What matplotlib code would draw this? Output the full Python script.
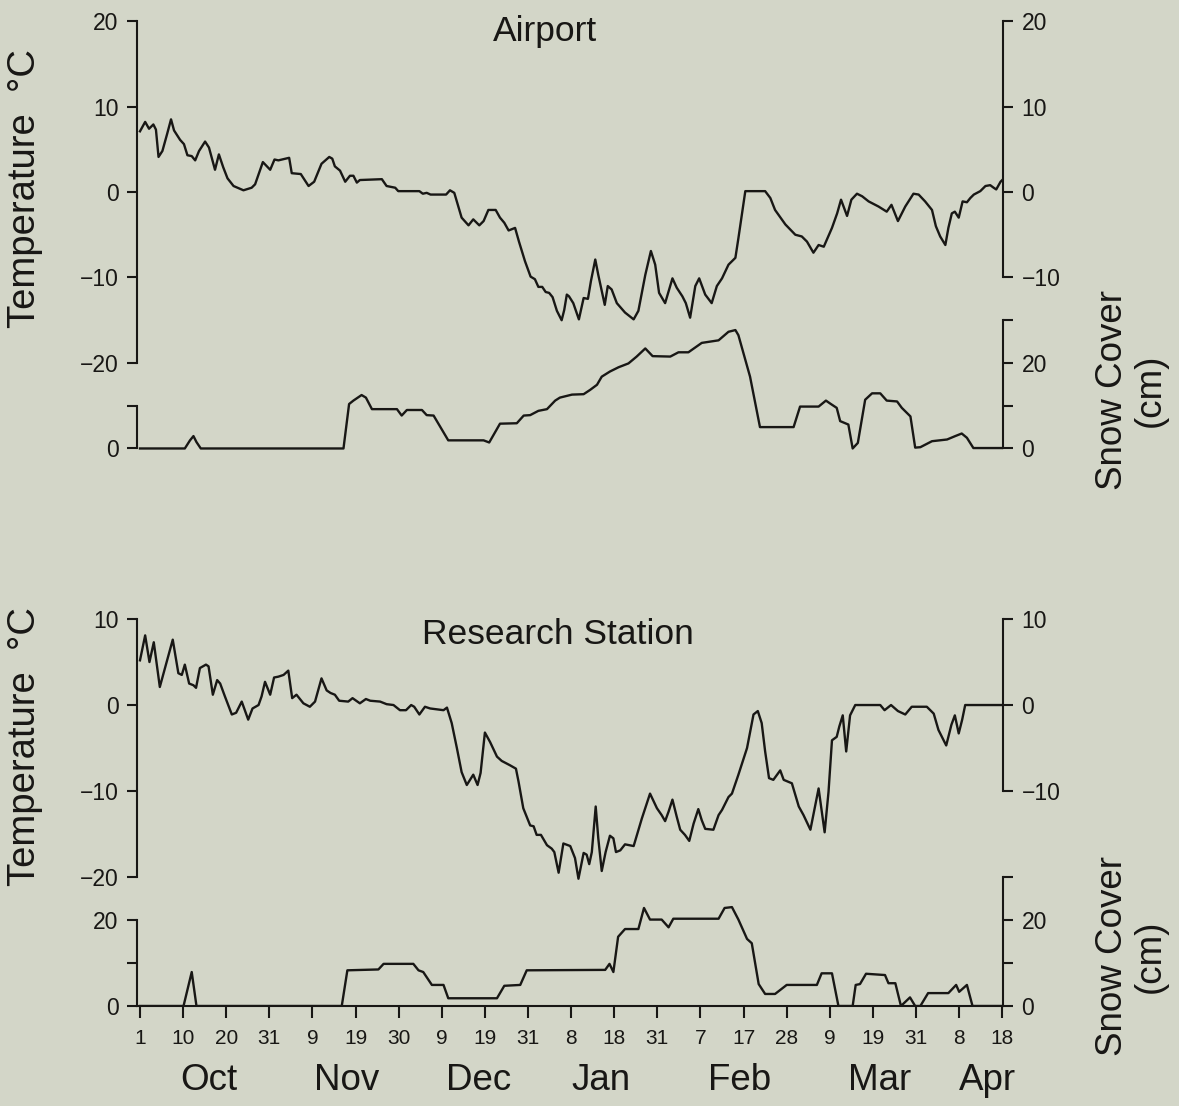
import matplotlib.pyplot as plt

plt.rcParams['font.family'] = ['Liberation Sans', 'DejaVu Sans']

# Values. Day 0 = 1 Oct, ticks every 10 days.
airport_temp_day = [
    0.0, 1.2, 2.1, 3.1, 3.7, 4.3, 5.2, 6.3, 7.2, 7.9, 9.3, 10.2, 11.0, 12.0, 12.8,
    13.7, 15.1, 16.0, 17.4, 18.3, 19.3, 20.3, 21.7, 24.0, 25.9, 26.7, 28.5, 30.2,
    31.2, 32.1, 34.6, 35.2, 37.3, 39.1, 40.4, 42.1, 43.9, 44.6, 45.2, 46.4, 47.6,
    48.7, 49.5, 50.3, 51.0, 56.1, 57.2, 59.2, 59.9, 64.8, 65.6, 66.5, 67.4, 71.0,
    71.9, 72.9, 73.9, 74.6, 76.2, 77.3, 78.7, 79.7, 80.8, 82.5, 83.5, 84.5, 85.5,
    87.0, 87.9, 89.3, 90.6, 91.6, 92.4, 93.3, 94.1, 94.9, 95.7, 96.7, 97.8, 98.4,
    99.0, 99.5, 100.5, 101.8, 102.9, 103.9, 104.6, 105.6, 106.3, 107.8, 108.5,
    109.4, 110.6, 112.5, 114.5, 115.6, 117.2, 118.5, 119.5, 120.4, 121.8, 123.5,
    124.5, 125.8, 126.6, 127.6, 128.8, 129.7, 131.1, 132.6, 133.8, 135.0, 136.5,
    138.1, 138.8, 140.4, 141.0, 145.0, 146.2, 147.3, 149.7, 152.0, 153.5, 154.7,
    156.2, 157.4, 158.6, 160.5, 161.7, 162.6, 164.0, 165.0, 166.3, 167.5, 169.0,
    171.3, 173.2, 174.3, 175.8, 177.5, 179.4, 180.6, 182.1, 183.7, 184.6, 185.6,
    186.8, 187.5, 188.3, 189.0, 189.9, 190.8, 191.8, 192.6, 193.4, 194.9, 196.1,
    197.2, 198.0, 198.6, 199.6, 200.0]
airport_temp = [
    7.1, 8.2, 7.4, 7.9, 7.3, 4.1, 4.8, 6.8, 8.5, 7.2, 6.1, 5.6, 4.3, 4.2, 3.7,
    4.8, 5.9, 5.2, 2.6, 4.4, 2.9, 1.6, 0.7, 0.2, 0.5, 0.9, 3.5, 2.6,
    3.8, 3.7, 4.0, 2.2, 2.1, 0.7, 1.2, 3.3, 4.1, 3.9, 3.0, 2.5, 1.2,
    1.9, 1.9, 1.1, 1.4, 1.5, 0.7, 0.5, 0.1, 0.1, -0.2, -0.1, -0.3, -0.3,
    0.2, -0.1, -1.8, -3.0, -3.9, -3.2, -3.9, -3.4, -2.1, -2.1, -3.0, -3.6, -4.5,
    -4.2, -5.8, -8.1, -9.9, -10.2, -11.1, -11.1, -11.7, -11.8, -12.3, -13.9, -15.0, -13.8,
    -12.0, -12.2, -13.0, -14.9, -12.4, -12.5, -10.4, -7.9, -9.7, -13.2, -11.0,
    -11.4, -13.0, -14.1, -14.9, -13.9, -9.7, -6.9, -8.5, -11.8, -13.0, -10.1,
    -11.2, -12.2, -13.0, -14.7, -11.0, -10.1, -12.0, -13.0, -11.0, -10.1, -8.5,
    -7.7, -5.4, 0.1, 0.1, 0.1, -0.7, -2.1, -3.8, -5.0, -5.2, -5.8,
    -7.1, -6.2, -6.4, -4.2, -2.5, -0.9, -2.8, -0.9, -0.2, -0.5, -1.1,
    -1.7, -2.3, -1.5, -3.4, -1.7, -0.2, -0.3, -1.1, -2.1, -4.0, -5.2,
    -6.2, -4.2, -2.5, -2.3, -3.0, -1.1, -1.2, -0.7, -0.3, 0.1, 0.7,
    0.8, 0.5, 0.3, 1.2, 1.4]

airport_snow_day = [
    0.0, 10.4, 11.6, 12.4, 13.1, 14.1, 47.2, 48.5, 49.5, 51.4, 52.4, 53.8,
    59.6, 60.7, 61.9, 65.4, 66.5, 68.1, 71.5, 79.7, 81.0, 83.5, 87.4, 89.0,
    90.5, 92.4, 94.4, 96.3, 97.4, 100.2, 102.9, 104.4, 106.0, 107.1, 109.0,
    111.0, 113.3, 115.2, 117.2, 118.9, 123.0, 124.9, 127.2, 130.3, 134.2, 136.5,
    138.1, 138.8, 141.5, 143.8, 151.6, 153.1, 157.4, 159.1, 160.1, 161.6, 162.4,
    164.3, 165.3, 166.5, 168.2, 169.8, 171.7, 173.2, 175.6, 176.7, 178.7, 179.8,
    181.0, 183.7, 187.2, 189.1, 190.6, 191.8, 193.3, 200.0]
airport_snow = [
    0, 0, 1.9, 2.9, 1.5, 0, 0, 10.4, 11.2, 12.5, 11.9, 9.2,
    9.2, 7.7, 9.0, 9.0, 7.8, 7.7, 1.9, 1.9, 1.4, 5.8, 5.9, 7.7,
    7.8, 8.8, 9.2, 11.2, 11.9, 12.6, 12.7, 13.7, 14.9, 16.8, 18.0,
    19.0, 19.9, 21.5, 23.4, 21.6, 21.5, 22.5, 22.5, 24.7, 25.3, 27.3,
    27.7, 26.5, 16.8, 5.0, 5.0, 9.8, 9.8, 11.2, 10.5, 9.5, 6.4,
    5.6, 0, 1.3, 11.4, 12.9, 12.9, 11.2, 11.0, 9.5, 7.5, 0.2,
    0.3, 1.7, 2.1, 2.9, 3.5, 2.5, 0.1, 0.1]

station_temp_day = [
    0.0, 1.2, 2.2, 3.2, 4.6, 7.6, 8.9, 9.7, 10.4, 11.4, 12.4, 13.0, 13.9, 15.3,
    15.9, 16.9, 17.9, 18.6, 19.7, 21.3, 22.3, 23.6, 25.1, 26.1, 27.5, 28.2, 29.0,
    30.2, 31.1, 32.1, 33.3, 34.4, 35.3, 36.3, 37.9, 39.4, 40.6, 42.1, 43.3, 44.2,
    45.2, 46.2, 48.3, 49.3, 51.0, 52.4, 53.4, 55.7, 57.2, 58.8, 60.3, 61.7, 62.9,
    63.6, 64.8, 66.1, 67.3, 70.4, 71.2, 72.3, 73.5, 74.6, 75.8, 77.3, 78.3, 79.0,
    80.0, 81.2, 82.8, 83.9, 85.8, 87.2, 87.8, 88.9, 90.5, 91.3, 92.0, 93.0, 94.4,
    95.5, 96.1, 97.1, 98.2, 99.8, 100.9, 101.7, 102.9, 103.6, 104.2, 104.8, 105.7,
    106.3, 107.1, 108.0, 109.0, 109.8, 110.4, 111.4, 112.5, 114.5, 116.4, 118.3,
    119.9, 121.0, 121.8, 122.6, 123.5, 124.5, 125.3, 126.4, 127.4, 128.4, 129.5,
    130.3, 131.1, 133.0, 134.2, 135.0, 136.5, 137.3, 138.8, 140.8, 142.3, 143.3,
    144.2, 145.0, 145.9, 146.9, 148.5, 149.3, 151.2, 152.8, 153.9, 155.5, 157.4,
    158.8, 159.7, 160.5, 161.6, 162.2, 163.0, 163.8, 164.7, 165.9, 171.7, 172.7,
    174.2, 175.8, 177.5, 179.0, 182.5, 184.1, 185.2, 187.0, 188.2, 189.0, 189.9,
    190.7, 191.4, 200.0]
station_temp = [
    5.2, 8.1, 5.0, 7.3, 2.1, 7.6, 3.7, 3.5, 4.7, 2.5, 2.3, 2.0, 4.3, 4.7,
    4.5, 1.2, 2.9, 2.5, 1.0, -1.1, -0.9, 0.4, -1.7, -0.4, 0.0, 1.0, 2.7,
    1.2, 3.2, 3.3, 3.5, 4.0, 0.8, 1.2, 0.2, -0.2, 0.4, 3.1, 1.7, 1.4,
    1.2, 0.5, 0.4, 0.8, 0.2, 0.7, 0.5, 0.4, 0.1, 0.0, -0.6, -0.6, 0.0,
    -0.2, -1.1, -0.2, -0.4, -0.6, -0.3, -2.1, -5.0, -7.8, -9.3, -8.1, -9.3, -7.9,
    -3.2, -4.3, -6.0, -6.5, -7.0, -7.4, -8.9, -12.0, -14.0, -14.1, -15.1, -15.1, -16.3,
    -16.7, -17.1, -19.5, -16.1, -16.4, -17.8, -20.2, -17.2, -17.4, -18.5, -17.1, -11.8,
    -15.5, -19.3, -17.1, -15.2, -15.5, -17.1, -16.9, -16.2, -16.4, -13.2, -10.3,
    -12.0, -12.8, -13.5, -12.4, -11.0, -13.0, -14.5, -15.1, -15.8, -13.8, -12.1,
    -13.4, -14.4, -14.5, -12.8, -12.2, -10.7, -10.3, -8.1, -5.0, -1.1, -0.7,
    -2.1, -5.4, -8.5, -8.7, -7.6, -8.7, -9.1, -11.8, -12.8, -14.5, -9.7,
    -14.8, -10.1, -4.1, -3.7, -2.5, -1.2, -5.4, -1.2, 0.0, 0.0, -0.6,
    0.0, -0.7, -1.1, -0.2, -0.2, -1.0, -2.9, -4.7, -2.3, -1.2, -3.3,
    -1.7, 0.0, 0.0]

station_snow_day = [
    0.0, 10.1, 12.0, 13.1, 46.8, 48.1, 55.3, 56.5, 63.4, 64.6, 65.7, 67.7,
    70.4, 71.5, 82.8, 84.5, 88.2, 89.7, 107.9, 108.9, 109.8, 110.9, 112.5, 115.6,
    116.9, 118.3, 121.0, 122.6, 123.7, 134.2, 135.6, 137.3, 138.8, 140.8, 141.9,
    143.5, 145.0, 147.3, 150.0, 157.0, 158.1, 160.5, 162.0, 165.3, 166.0, 167.0,
    168.4, 172.8, 173.6, 175.2, 176.5, 178.6, 179.8, 181.0, 182.8, 187.5, 189.3,
    190.0, 191.8, 193.1, 200.0]
station_snow = [
    0, 0, 7.9, 0, 0, 8.3, 8.5, 9.8, 9.8, 8.3, 7.9, 4.9,
    4.9, 1.8, 1.8, 4.7, 4.9, 8.3, 8.4, 9.8, 7.9, 16.1, 17.9, 17.9,
    22.8, 20.1, 20.1, 18.3, 20.3, 20.3, 22.8, 23.0, 20.1, 15.6, 14.6,
    5.1, 2.8, 2.8, 4.9, 4.9, 7.6, 7.6, 0, 0, 4.9, 5.1,
    7.5, 7.2, 5.3, 5.3, 0, 2.0, 0, 0, 3.0, 3.0, 4.9,
    3.3, 4.9, 0, 0]

tick_days = list(range(0, 201, 10))
tick_labels = ['1', '10', '20', '31', '9', '19', '30', '9', '19', '31', '8',
               '18', '31', '7', '17', '28', '9', '19', '31', '8', '18']
months = ['Oct', 'Nov', 'Dec', 'Jan', 'Feb', 'Mar', 'Apr']
month_days = [16, 48, 78.5, 107, 139, 171.5, 196.5]

BG = '#d3d6c8'
INK = '#181715'
W, H = 1179, 1106


def frac(x, y):
    return x / W, 1 - y / H


def y_side(a, side, bounds, ticks, labels):
    for name, sp in a.spines.items():
        sp.set_visible(name == side)
    sp = a.spines[side]
    sp.set_bounds(*bounds)
    sp.set_linewidth(1.5)
    sp.set_color(INK)
    if side == 'left':
        a.yaxis.tick_left()
    else:
        a.yaxis.tick_right()
    a.set_yticks(ticks, labels)
    a.tick_params(axis='y', direction='out', length=7.5, width=1.5,
                  colors=INK, labelsize=16.5, pad=6)


def panel(top_px, bot_px, ylim, snow_zero, temp_day, temp, snow_day, snow,
          left_temp, right_temp, left_snow, right_snow, bottom_axis):
    x0, y0 = frac(137.4, bot_px)
    x1, y1 = frac(1002.7, top_px)
    ax = fig.add_axes([x0, y0, x1 - x0, y1 - y0])
    ax.set_xlim(-0.6, 200.1)
    ax.set_ylim(*ylim)
    ax.patch.set_visible(False)
    ax.plot(temp_day, temp, color=INK, lw=1.7)

    # snow cover uses half the temperature scale, zero placed at snow_zero
    slim = (2 * (ylim[0] - snow_zero), 2 * (ylim[1] - snow_zero))
    axs = ax.twinx()
    axs.set_ylim(*slim)
    axs.plot(snow_day, snow, color=INK, lw=1.7)

    ax_rt = ax.twinx()
    ax_rt.set_ylim(*ylim)
    axs_l = ax.twinx()
    axs_l.set_ylim(*slim)

    y_side(ax, 'left', *left_temp)
    y_side(ax_rt, 'right', *right_temp)
    y_side(axs, 'right', *right_snow)
    y_side(axs_l, 'left', *left_snow)

    if bottom_axis:
        sp = ax.spines['bottom']
        sp.set_visible(True)
        sp.set_linewidth(1.5)
        sp.set_color(INK)
        ax.set_xticks(tick_days, tick_labels)
        ax.tick_params(axis='x', direction='out', length=8.5, width=1.5,
                       colors=INK, labelsize=15, pad=8)
        for m, d in zip(months, month_days):
            ax.text(d, -0.19, m, transform=ax.get_xaxis_transform(),
                    ha='center', va='center', fontsize=26.5, color=INK)
    else:
        ax.tick_params(axis='x', bottom=False, labelbottom=False)
    return ax


fig = plt.figure(figsize=(W / 100, H / 100), dpi=100, facecolor=BG)

M = '\u2212'
panel(17.6, 453.6, (-30.6, 20.4), -30, airport_temp_day, airport_temp,
      airport_snow_day, airport_snow,
      ((-20, 20), [-20, -10, 0, 10, 20], [M + '20', M + '10', '0', '10', '20']),
      ((-10, 20), [-10, 0, 10, 20], [M + '10', '0', '10', '20']),
      ((0, 10), [0, 10], ['0', '']),
      ((0, 30), [0, 10, 20, 30], ['0', '', '20', '']),
      False)

panel(615.6, 1006, (-35, 10.4), -35, station_temp_day, station_temp,
      station_snow_day, station_snow,
      ((-20, 10), [-20, -10, 0, 10], [M + '20', M + '10', '0', '10']),
      ((-10, 10), [-10, 0, 10], [M + '10', '0', '10']),
      ((0, 20), [0, 10, 20], ['0', '', '20']),
      ((0, 30), [0, 10, 20, 30], ['0', '', '20', '']),
      True)

fig.text(*frac(545, 31), 'Airport', ha='center', va='center', fontsize=25.5, color=INK)
fig.text(*frac(558, 635), 'Research Station', ha='center', va='center',
         fontsize=25.5, color=INK)

for yc in (189, 747):
    fig.text(*frac(25, yc), 'Temperature  \u00b0C', rotation=90, ha='center',
             va='center', fontsize=27.5, color=INK)
for yc in (390, 956):
    fig.text(*frac(1131, yc), 'Snow Cover\n(cm)', rotation=90, ha='center',
             va='center', multialignment='center', fontsize=26.5,
             linespacing=1.1, color=INK)

fig.savefig('out.png', dpi=100, facecolor=BG)
